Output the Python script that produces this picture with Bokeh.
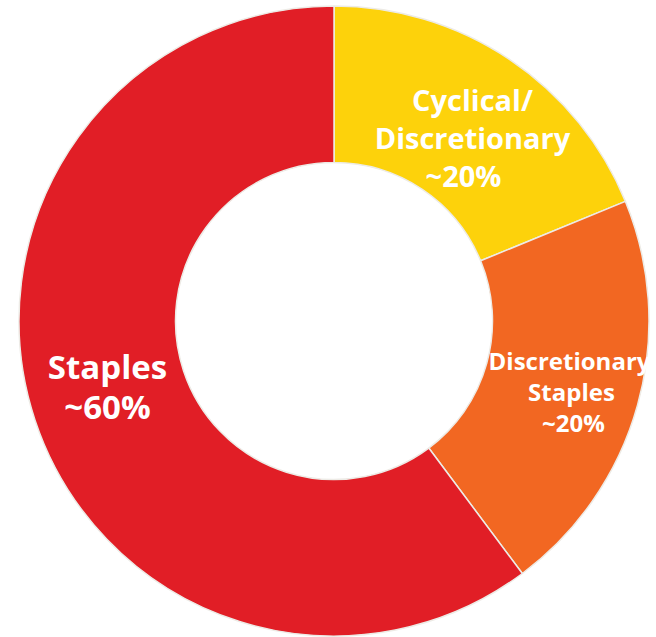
from bokeh.plotting import figure
from bokeh.models import ColumnDataSource, Range1d
from bokeh.core.properties import value
from bokeh.embed import file_html
from bokeh.resources import INLINE
import numpy as np

# ---- data ----
categories = ["Cyclical/Discretionary", "Discretionary Staples", "Staples"]
shares = [18.8, 21.0, 60.2]
colors = ["#FDD20B", "#F26722", "#E11E26"]
label_lines = [["Cyclical/", "Discretionary", "~20%"],
               ["Discretionary", "Staples", "~20%"],
               ["Staples", "~60%"]]

# ---- layout (pixels) ----
W, H = 656, 637
cx, cy = 333.5, H - 320.5
r_out, r_in = 315, 158.5
label_anchor = [(472, 99), (569, 360), (107, 366)]   # center x, first baseline (pixel y)
label_size = [29, 24, 33]
label_step = [38, 31, 40]
line_dx = [[0, 0, -9], [0, 2, 4], [0, 0]]

vals = np.array(shares, dtype=float)
cum = np.concatenate([[0], np.cumsum(vals)]) / vals.sum()
start = np.deg2rad(90 - cum[1:] * 360)
end = np.deg2rad(90 - cum[:-1] * 360)

wedges = ColumnDataSource(dict(cat=categories, start=start, end=end, color=colors,
                               x=[cx] * 3, y=[cy] * 3))

tx, ty, tt, ts = [], [], [], []
for lines, (ax, ay), sz, st, dxs in zip(label_lines, label_anchor, label_size, label_step, line_dx):
    for k, line in enumerate(lines):
        tx.append(ax + dxs[k])
        ty.append(H - (ay + k * st))
        tt.append(line)
        ts.append(f"{sz}px")
texts = ColumnDataSource(dict(x=tx, y=ty, text=tt, size=ts))

p = figure(width=W, height=H, x_range=Range1d(0, W), y_range=Range1d(0, H),
           output_backend="svg", toolbar_location=None, min_border=0,
           outline_line_color=None, background_fill_color="white",
           border_fill_color="white")
p.axis.visible = False
p.grid.visible = False

p.annular_wedge(x="x", y="y", inner_radius=r_in, outer_radius=r_out,
                start_angle="start", end_angle="end", fill_color="color",
                line_color="#EDEBE6", line_width=1.5, source=wedges)

p.text(x="x", y="y", text="text", text_font_size="size", text_color="white",
       text_font=value("Open Sans"), text_font_style="bold", text_align="center",
       text_baseline="alphabetic", source=texts)

open("out.html", "w").write(file_html(p, INLINE))
